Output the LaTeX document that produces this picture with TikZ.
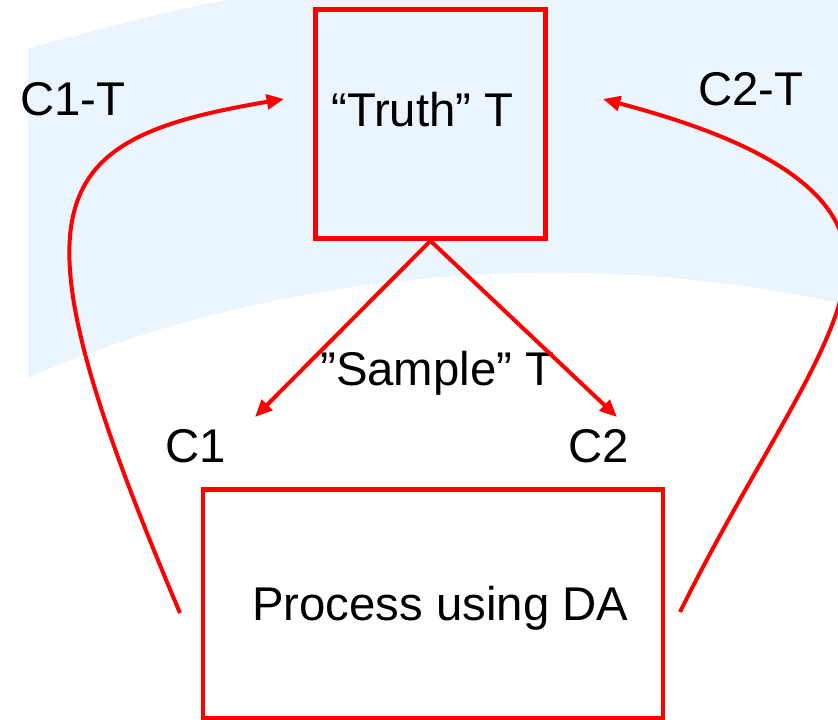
\documentclass[tikz,border=0pt]{standalone}
\usepackage{fontspec}
\setmainfont{Liberation Sans}
\usetikzlibrary{arrows.meta}

\definecolor{slideblue}{RGB}{234,245,253}
\definecolor{boxred}{RGB}{255,0,0}

\tikzset{
  redbox/.style={draw=boxred, line width=3.5pt, inner sep=0pt},
  redline/.style={draw=boxred, line width=3pt},
  redarrow/.style={redline, -{Triangle[length=13pt,width=11pt]}},
  lbl/.style={anchor=base west, inner sep=0pt, font=\fontsize{35.5}{42}\selectfont},
}

\begin{document}
\begin{tikzpicture}[x=0.75pt,y=0.75pt,yscale=-1]
\useasboundingbox (0,0) rectangle (838,720);

%Shape: background swoosh
\fill[slideblue] (28,378) .. controls (250,280) and (550,240) .. (838,303) -- (838,0) -- (225,0) .. controls (150,15) and (80,35) .. (28,48) -- cycle;

%Shape: Rectangle [truth]
\node[redbox, minimum width=172.5pt, minimum height=171.75pt] (truth) at (430.5,124) {};
%Shape: Rectangle [process]
\node[redbox, fill=white, minimum width=345pt, minimum height=171.4pt] (process) at (433,604) {};

% Text Node
\node[lbl] (truthtxt) at (331,127) {“Truth” T};
% Text Node
\node[lbl] (sampletxt) at (320,385) {”Sample” T};
% Text Node
\node[lbl] (c1) at (165,462) {C1};
% Text Node
\node[lbl] (c2) at (568,462) {C2};
% Text Node
\node[lbl] (processtxt) at (252,620) {Process using DA};
% Text Node
\node[lbl] (c1t) at (20,116) {C1-T};
% Text Node
\node[lbl] (c2t) at (698,106) {C2-T};

% free ends of the connectors
\coordinate (c1in) at (255,417);
\coordinate (c2in) at (617,417);
\coordinate (loopL) at (180,613);
\coordinate (loopR) at (680,612);
\coordinate (truthL) at (284,99);
\coordinate (truthR) at (603,99);

%Straight Lines: sampling
\draw[redarrow] (truth.south) -- (c1in);
\draw[redarrow] (truth.south) -- (c2in);

%Curve Lines: back to truth
\draw[redarrow] (loopL) .. controls (5,200) and (40,140) .. (truthL);
\draw[redarrow] (loopR) .. controls (760,450) and (846,340) .. (846,262) .. controls (846,170) and (700,125) .. (truthR);

\end{tikzpicture}
\end{document}
